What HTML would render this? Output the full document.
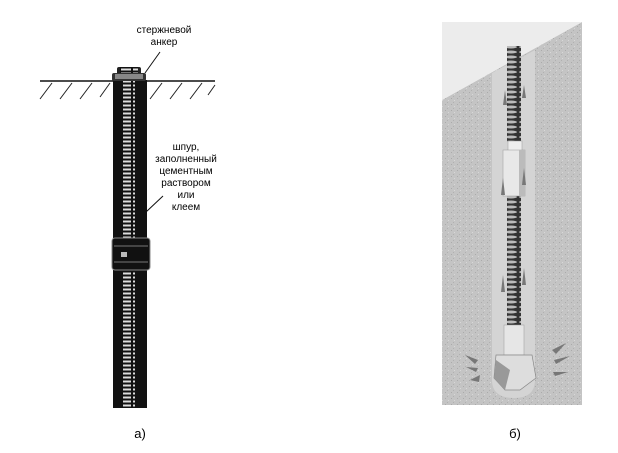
<!DOCTYPE html>
<html><head><meta charset="utf-8"><style>
body{margin:0;background:#fff;}
svg{display:block}
text{font-family:"Liberation Sans",sans-serif;}
</style></head><body>
<svg width="618" height="453" viewBox="0 0 618 453" xmlns="http://www.w3.org/2000/svg">
<defs>
<pattern id="thr" width="12" height="4" patternUnits="userSpaceOnUse">
<rect width="12" height="4" fill="#111"/><rect x="1" y="0.5" width="10" height="2" fill="#ddd"/>
</pattern>
<pattern id="spr" width="14" height="5" patternUnits="userSpaceOnUse">
<rect width="14" height="5" fill="#333"/><ellipse cx="7" cy="2" rx="6" ry="1.5" fill="#bbb"/>
</pattern>
<pattern id="noise" width="6" height="6" patternUnits="userSpaceOnUse">
<rect width="6" height="6" fill="#c4c4c4"/><rect x="1" y="2" width="1" height="1" fill="#aaa"/><rect x="4" y="4" width="1" height="1" fill="#d8d8d8"/><rect x="3" y="0" width="1" height="1" fill="#b0b0b0"/>
</pattern>
</defs>
<!-- panel a -->
<line x1="40" y1="81" x2="215" y2="81" stroke="#111" stroke-width="1.5"/>
<g stroke="#222" stroke-width="1">
<line x1="52" y1="83" x2="40" y2="99"/><line x1="72" y1="83" x2="60" y2="99"/><line x1="92" y1="83" x2="80" y2="99"/><line x1="110" y1="83" x2="100" y2="97"/>
<line x1="162" y1="83" x2="150" y2="99"/><line x1="182" y1="83" x2="170" y2="99"/><line x1="202" y1="83" x2="190" y2="99"/><line x1="215" y1="85" x2="208" y2="95"/>
</g>
<rect x="113" y="80" width="34" height="328" fill="#111"/>
<rect x="123" y="70" width="12" height="338" fill="url(#thr)"/>
<rect x="117" y="67" width="24" height="10" fill="#222" rx="2"/>
<rect x="120" y="67" width="18" height="10" fill="url(#thr)"/>
<rect x="112" y="73" width="34" height="8" fill="#333" rx="2"/>
<rect x="115" y="74" width="28" height="5" fill="#888"/>
<rect x="112" y="238" width="38" height="32" fill="#111" rx="3" stroke="#888" stroke-width="1"/>
<line x1="114" y1="246" x2="148" y2="246" stroke="#777"/>
<line x1="114" y1="262" x2="148" y2="262" stroke="#777"/>
<rect x="121" y="252" width="6" height="5" fill="#bbb"/>
<line x1="145" y1="73" x2="160" y2="52" stroke="#111"/>
<line x1="146" y1="212" x2="163" y2="196" stroke="#111"/>
<text x="164" y="33" font-size="10" text-anchor="middle">стержневой</text>
<text x="164" y="45" font-size="10" text-anchor="middle">анкер</text>
<g font-size="10" text-anchor="middle">
<text x="186" y="150">шпур,</text>
<text x="186" y="162">заполненный</text>
<text x="186" y="174">цементным</text>
<text x="186" y="186">раствором</text>
<text x="186" y="198">или</text>
<text x="186" y="210">клеем</text>
</g>
<text x="140" y="438" font-size="13" font-family="Liberation Serif" text-anchor="middle">а)</text>
<!-- panel b -->
<polygon points="442,100 582,22 582,405 442,405" fill="url(#noise)"/>
<polygon points="442,22 582,22 442,100" fill="#ececec"/>
<path d="M492,73 L535,50 L535,380 Q535,398 514,398 Q492,398 492,380 Z" fill="#d4d4d4"/>
<rect x="507" y="46" width="14" height="96" fill="url(#spr)"/>
<rect x="507" y="195" width="14" height="130" fill="url(#spr)"/>
<rect x="508" y="141" width="14" height="10" fill="#eee" stroke="#999" stroke-width="0.5"/>
<rect x="503" y="150" width="22" height="46" fill="#e8e8e8" stroke="#999" stroke-width="0.5"/>
<rect x="519" y="150" width="6" height="46" fill="#bbb"/>
<rect x="504" y="325" width="20" height="30" fill="#e6e6e6" stroke="#999" stroke-width="0.5"/>
<polygon points="496,355 532,355 536,378 520,390 505,390 494,378" fill="#ddd" stroke="#888" stroke-width="0.7"/>
<polygon points="496,360 510,370 505,390 494,378" fill="#999"/>
<g fill="#777">
<polygon points="465,355 478,360 475,364"/><polygon points="466,367 478,368 476,372"/><polygon points="470,380 480,375 479,382"/>
<polygon points="552,350 566,343 556,354"/><polygon points="554,360 570,356 556,364"/><polygon points="553,372 568,372 555,376"/>
<polygon points="503,105 505,90 507,105"/><polygon points="522,98 524,85 526,98"/><polygon points="501,195 503,178 505,195"/><polygon points="522,185 524,168 526,185"/>
<polygon points="501,292 503,275 505,292"/><polygon points="522,285 524,268 526,285"/>
</g>
<text x="515" y="438" font-size="13" font-family="Liberation Serif" text-anchor="middle">б)</text>
</svg>
</body></html>
